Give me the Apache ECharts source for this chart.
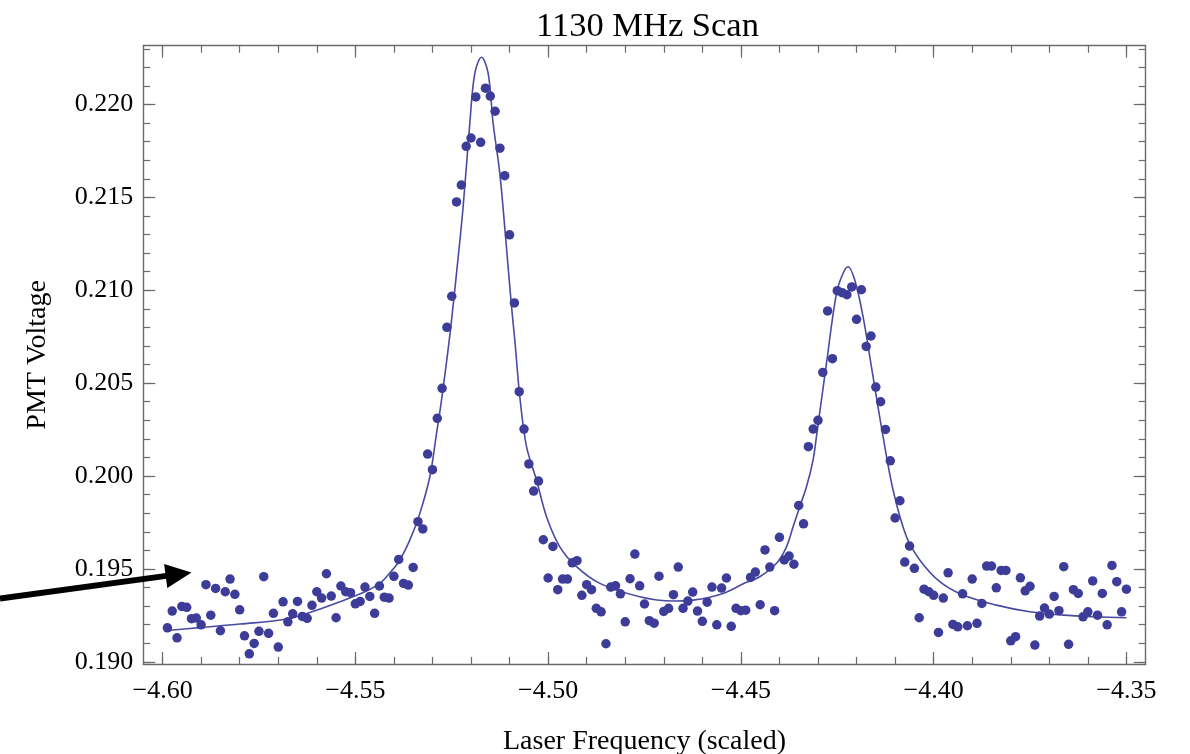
<!DOCTYPE html>
<html><head><meta charset="utf-8">
<script src="https://cdn.jsdelivr.net/npm/echarts@6/dist/echarts.min.js"></script>
<style>html,body{margin:0;padding:0;background:#fff}#c{width:1190px;height:754px}</style>
</head><body><div id="c"></div>
<script>
const chartTitle = '1130 MHz Scan';
const xName = 'Laser Frequency (scaled)';
const yName = 'PMT Voltage';
const xTickLabels = [-4.60, -4.55, -4.50, -4.45, -4.40, -4.35];
const yTickLabels = [0.190, 0.195, 0.200, 0.205, 0.210, 0.215, 0.220];

const freq = [
-4.59875,-4.5975,-4.59625,-4.595,-4.59375,-4.5925,-4.59125,-4.59,
-4.58875,-4.5875,-4.58625,-4.585,-4.58375,-4.5825,-4.58125,-4.58,
-4.57875,-4.5775,-4.57625,-4.575,-4.57375,-4.5725,-4.57125,-4.57,
-4.56875,-4.5675,-4.56625,-4.565,-4.56375,-4.5625,-4.56125,-4.56,
-4.55875,-4.5575,-4.55625,-4.555,-4.55375,-4.5525,-4.55125,-4.55,
-4.54875,-4.5475,-4.54625,-4.545,-4.54375,-4.5425,-4.54125,-4.54,
-4.53875,-4.5375,-4.53625,-4.535,-4.53375,-4.5325,-4.53125,-4.53,
-4.52875,-4.5275,-4.52625,-4.525,-4.52375,-4.5225,-4.52125,-4.52,
-4.51875,-4.5175,-4.51625,-4.515,-4.51375,-4.5125,-4.51125,-4.51,
-4.50875,-4.5075,-4.50625,-4.505,-4.50375,-4.5025,-4.50125,-4.50,
-4.49875,-4.4975,-4.49625,-4.495,-4.49375,-4.4925,-4.49125,-4.49,
-4.48875,-4.4875,-4.48625,-4.485,-4.48375,-4.4825,-4.48125,-4.48,
-4.47875,-4.4775,-4.47625,-4.475,-4.47375,-4.4725,-4.47125,-4.47,
-4.46875,-4.4675,-4.46625,-4.465,-4.46375,-4.4625,-4.46125,-4.46,
-4.45875,-4.4575,-4.45625,-4.455,-4.45375,-4.4525,-4.45125,-4.45,
-4.44875,-4.4475,-4.44625,-4.445,-4.44375,-4.4425,-4.44125,-4.44,
-4.43875,-4.4375,-4.43625,-4.435,-4.43375,-4.4325,-4.43125,-4.43,
-4.42875,-4.4275,-4.42625,-4.425,-4.42375,-4.4225,-4.42125,-4.42,
-4.41875,-4.4175,-4.41625,-4.415,-4.41375,-4.4125,-4.41125,-4.41,
-4.40875,-4.4075,-4.40625,-4.405,-4.40375,-4.4025,-4.40125,-4.40,
-4.39875,-4.3975,-4.39625,-4.395,-4.39375,-4.3925,-4.39125,-4.39,
-4.38875,-4.3875,-4.38625,-4.385,-4.38375,-4.3825,-4.38125,-4.38,
-4.37875,-4.3775,-4.37625,-4.375,-4.37375,-4.3725,-4.37125,-4.37,
-4.36875,-4.3675,-4.36625,-4.365,-4.36375,-4.3625,-4.36125,-4.36,
-4.35875,-4.3575,-4.35625,-4.355,-4.35375,-4.3525,-4.35125,-4.35
];

const voltage = [
0.19183,0.19273,0.19129,0.19298,0.19293,0.19232,0.19235,0.19199,0.19415,0.19251,
0.19395,0.19167,0.19377,0.19445,0.19363,0.19280,0.19140,0.19043,0.19099,0.19164,
0.19458,0.19153,0.19261,0.19079,0.19323,0.19215,0.19258,0.19325,0.19244,0.19234,
0.19304,0.19377,0.19343,0.19474,0.19354,0.19237,0.19408,0.19377,0.19372,0.19312,
0.19325,0.19402,0.19352,0.19261,0.19408,0.19348,0.19343,0.19460,0.19551,0.19422,
0.19413,0.19508,0.19754,0.19715,0.20118,0.20034,0.20311,0.20472,0.20801,0.20968,
0.21476,0.21567,0.21775,0.21820,0.22041,0.21797,0.22088,0.22046,0.21964,0.21765,
0.21617,0.21299,0.20932,0.20454,0.20253,0.20065,0.19919,0.19973,0.19657,0.19451,
0.19621,0.19388,0.19445,0.19445,0.19533,0.19544,0.19358,0.19415,0.19388,0.19288,
0.19269,0.19097,0.19402,0.19409,0.19366,0.19215,0.19447,0.19580,0.19409,0.19311,
0.19221,0.19208,0.19461,0.19271,0.19288,0.19361,0.19510,0.19288,0.19327,0.19375,
0.19273,0.19218,0.19321,0.19402,0.19199,0.19397,0.19451,0.19191,0.19288,0.19275,
0.19278,0.19454,0.19483,0.19307,0.19602,0.19510,0.19275,0.19670,0.19548,0.19569,
0.19525,0.19842,0.19743,0.20158,0.20253,0.20300,0.20558,0.20889,0.20632,0.20998,
0.20987,0.20976,0.21018,0.20844,0.21003,0.20698,0.20754,0.20479,0.20400,0.20251,
0.20082,0.19774,0.19867,0.19537,0.19623,0.19503,0.19237,0.19391,0.19377,0.19358,
0.19158,0.19343,0.19479,0.19201,0.19188,0.19366,0.19194,0.19445,0.19207,0.19314,
0.19515,0.19515,0.19398,0.19492,0.19492,0.19113,0.19135,0.19452,0.19382,0.19406,
0.19090,0.19246,0.19289,0.19257,0.19352,0.19275,0.19512,0.19094,0.19388,0.19368,
0.19242,0.19269,0.19435,0.19251,0.19368,0.19199,0.19519,0.19431,0.19269,0.19391
];

const fitFreq = [
-4.59875,-4.59033,-4.57995,-4.56784,-4.56006,-4.55402,-4.54710,-4.54365,-4.54191,-4.54020,
-4.53846,-4.53587,-4.53327,-4.53068,-4.52894,-4.52765,-4.52549,-4.52376,-4.52204,-4.52031,
-4.51901,-4.51727,-4.51556,-4.51426,-4.51253,-4.51097,-4.50949,-4.50864,-4.50734,-4.50560,
-4.50301,-4.50041,-4.49697,-4.49263,-4.48659,-4.47622,-4.46758,-4.46240,-4.45462,-4.44899,
-4.44510,-4.44077,-4.43817,-4.43646,-4.43473,-4.43299,-4.43128,-4.43040,-4.42780,-4.42521,
-4.42349,-4.42220,-4.42046,-4.41831,-4.41572,-4.41312,-4.41053,-4.40705,-4.40360,-4.39842,
-4.39238,-4.38371,-4.37508,-4.36644,-4.35778,-4.35
];
const fitVoltage = [
0.19168,0.19184,0.19203,0.19230,0.19278,0.19323,0.19381,0.19422,0.19458,0.19499,
0.19548,0.19655,0.19799,0.19996,0.20230,0.20409,0.20759,0.21092,0.21450,0.21899,
0.22169,0.22255,0.22169,0.21899,0.21630,0.21271,0.20912,0.20732,0.20427,0.20158,
0.19978,0.19781,0.19619,0.19512,0.19422,0.19350,0.19327,0.19332,0.19368,0.19424,
0.19458,0.19530,0.19619,0.19727,0.19835,0.19942,0.20086,0.20212,0.20607,0.20984,
0.21092,0.21127,0.21055,0.20858,0.20535,0.20212,0.19925,0.19673,0.19548,0.19431,
0.19359,0.19305,0.19269,0.19251,0.19242,0.19237
];

// axis decoration (minor ticks between the labelled ones)
const xMinor = [];
for (let k = 0; k <= 25; k++) xMinor.push(+(-4.60 + k * 0.01).toFixed(2));
const yMinor = [];
for (let k = 0; k <= 33; k++) yMinor.push(+(0.190 + k * 0.001).toFixed(3));

const X_MIN = -4.605, X_MAX = -4.345, Y_MIN = 0.18988, Y_MAX = 0.22317;
const FRAME = '#6a6a6a';
const FONT = '"Liberation Serif", "DejaVu Serif", serif';

function xAxis(pos, ticks, len, withLabels, lineShow) {
  return {
    type: 'value', position: pos, min: X_MIN, max: X_MAX,
    axisLine: { show: lineShow, onZero: false, lineStyle: { color: FRAME, width: 1.4 } },
    axisTick: { show: true, inside: true, length: len, customValues: ticks, lineStyle: { color: FRAME, width: 1.2 } },
    axisLabel: withLabels ? {
      show: true, customValues: ticks, margin: 14, color: '#000', fontFamily: FONT, fontSize: 26,
      formatter: v => (v < 0 ? '\u2212' : '') + Math.abs(v).toFixed(2)
    } : { show: false },
    splitLine: { show: false }, minorTick: { show: false }
  };
}
function yAxis(pos, ticks, len, withLabels, lineShow) {
  return {
    type: 'value', position: pos, min: Y_MIN, max: Y_MAX,
    axisLine: { show: lineShow, onZero: false, lineStyle: { color: FRAME, width: 1.4 } },
    axisTick: { show: true, inside: true, length: len, customValues: ticks, lineStyle: { color: FRAME, width: 1.2 } },
    axisLabel: withLabels ? {
      show: true, customValues: ticks, margin: 10, color: '#000', fontFamily: FONT, fontSize: 26,
      formatter: v => v.toFixed(3)
    } : { show: false },
    splitLine: { show: false }, minorTick: { show: false }
  };
}

const xa0 = xAxis('bottom', xTickLabels, 12, true, true);
xa0.name = xName; xa0.nameLocation = 'middle'; xa0.nameGap = 64;
xa0.nameTextStyle = { color: '#000', fontFamily: FONT, fontSize: 28 };
const ya0 = yAxis('left', yTickLabels, 12, true, true);
ya0.name = yName; ya0.nameLocation = 'middle'; ya0.nameGap = 92;
ya0.nameTextStyle = { color: '#000', fontFamily: FONT, fontSize: 28 };

const chart = echarts.init(document.getElementById('c'), null, { renderer: 'canvas' });
chart.setOption({
  backgroundColor: '#fff',
  animation: false,
  title: {
    text: chartTitle, left: 531, top: 4,
    textStyle: { color: '#000', fontFamily: FONT, fontSize: 34.5, fontWeight: 'normal' }
  },
  grid: { left: 143.3, right: 44.3, top: 45.7, bottom: 90, containLabel: false, outerBoundsMode: 'none' },
  xAxis: [
    xa0,
    xAxis('bottom', xMinor, 7, false, false),
    xAxis('top', xTickLabels, 12, false, true),
    xAxis('top', xMinor, 7, false, false)
  ],
  yAxis: [
    ya0,
    yAxis('left', yMinor, 7, false, false),
    yAxis('right', yTickLabels, 12, false, true),
    yAxis('right', yMinor, 7, false, false)
  ],
  series: [
    {
      type: 'line', xAxisIndex: 0, yAxisIndex: 0, z: 2,
      data: fitFreq.map((x, i) => [x, fitVoltage[i]]),
      smooth: 0.35, showSymbol: false, symbol: 'none',
      lineStyle: { color: '#4a4aa2', width: 1.6 }
    },
    {
      type: 'scatter', xAxisIndex: 0, yAxisIndex: 0, z: 3,
      data: freq.map((x, i) => [x, voltage[i]]),
      symbol: 'circle', symbolSize: 9.5,
      itemStyle: { color: '#3d3d99', opacity: 1 }
    }
  ],
  graphic: [
    { type: 'line', shape: { x1: 0, y1: 598.5, x2: 170, y2: 575.4 }, style: { stroke: '#000', lineWidth: 6 }, z: 10 },
    { type: 'polygon', shape: { points: [[191.5, 572.5], [164.1, 564.1], [167.3, 587.9]] }, style: { fill: '#000' }, z: 10 }
  ]
});
</script>
</body></html>
